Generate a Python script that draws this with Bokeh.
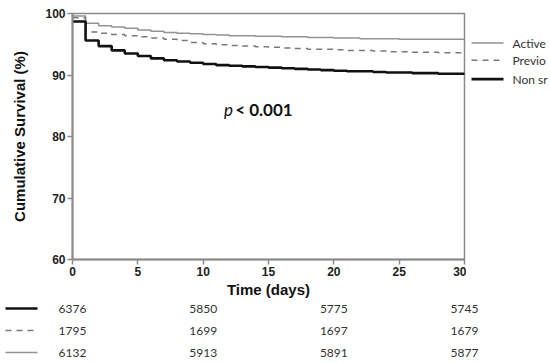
from bokeh.plotting import figure
from bokeh.layouts import column, row
from bokeh.models import Range1d, FixedTicker, Label
from bokeh.core.properties import value
from bokeh.embed import file_html
from bokeh.resources import INLINE

# ---- data ----
days = list(range(31))
non_smokers = [98.7, 95.6, 94.7, 94.0, 93.5, 93.1, 92.7, 92.4, 92.2, 92.0, 91.8,
               91.6, 91.5, 91.4, 91.3, 91.2, 91.1, 91.0, 90.9, 90.8, 90.7,
               90.6, 90.6, 90.5, 90.4, 90.4, 90.3, 90.3, 90.2, 90.2, 90.1]
previous_smokers = [99.3, 97.0, 96.8, 96.6, 96.4, 96.2, 96.0, 95.8, 95.6, 95.3, 95.1,
                    94.9, 94.8, 94.7, 94.6, 94.5, 94.4, 94.3, 94.2, 94.2, 94.1,
                    94.0, 94.0, 93.9, 93.8, 93.8, 93.7, 93.7, 93.6, 93.6, 93.5]
active_smokers = [99.6, 98.4, 98.0, 97.8, 97.6, 97.3, 97.1, 96.9, 96.8, 96.7, 96.6,
                  96.5, 96.4, 96.4, 96.3, 96.3, 96.2, 96.2, 96.1, 96.1, 96.0,
                  96.0, 95.9, 95.9, 95.9, 95.8, 95.8, 95.8, 95.8, 95.8, 95.8]
table_times = [0, 10, 20, 30]
at_risk_non = [6376, 5850, 5775, 5745]
at_risk_previous = [1795, 1699, 1697, 1679]
at_risk_active = [6132, 5913, 5891, 5877]
legend_labels = ["Active", "Previo", "Non sr"]
x_ticks = [0, 5, 10, 15, 20, 25, 30]
y_ticks = [60, 70, 80, 90, 100]
p_text_italic = "p"
p_text_rest = "< 0.001"

AXIS_GRAY = "#8a8a8a"
ACTIVE_COLOR = "#939393"
PREV_COLOR = "#7a7a7a"
NON_COLOR = "#111111"
TEXT_COLOR = "#333333"

LEFT = 72
MAIN_W = 466
MAIN_H = 300
TOTAL_W = 550
TBL_H = 63

# ---- main plot ----
p = figure(width=MAIN_W, height=MAIN_H, x_range=Range1d(0, 30), y_range=Range1d(60, 100),
           toolbar_location=None, output_backend="svg",
           min_border_left=LEFT, min_border_right=2, min_border_top=13, min_border_bottom=41)
p.grid.visible = False
p.outline_line_color = AXIS_GRAY
p.outline_line_width = 1.5

p.step(days, active_smokers, mode="after", line_color=ACTIVE_COLOR, line_width=1.5)
p.step(days, previous_smokers, mode="after", line_color=PREV_COLOR, line_width=1.5,
       line_dash="6 5")
p.step(days, non_smokers, mode="after", line_color=NON_COLOR, line_width=2.6)

for ax in (p.xaxis[0], p.yaxis[0]):
    ax.axis_line_color = AXIS_GRAY
    ax.axis_line_width = 2
    ax.major_tick_line_color = AXIS_GRAY
    ax.major_tick_line_width = 1.5
    ax.major_tick_out = 5
    ax.major_tick_in = 0
    ax.minor_tick_line_color = None
    ax.major_label_standoff = 2
    ax.major_label_text_font = "Liberation Sans"
    ax.major_label_text_font_style = "bold"
    ax.major_label_text_font_size = "12px"
    ax.major_label_text_color = "#222222"
    ax.axis_label_text_font = "Liberation Sans"
    ax.axis_label_text_font_style = "bold"
    ax.axis_label_text_color = "#111111"

p.xaxis.ticker = FixedTicker(ticks=x_ticks)
p.yaxis.ticker = FixedTicker(ticks=y_ticks)
p.xaxis.axis_label = "Time (days)"
p.xaxis.axis_label_text_font_size = "15px"
p.xaxis.axis_label_standoff = 2
p.yaxis.axis_label = "Cumulative Survival (%)"
p.yaxis.axis_label_text_font_size = "15px"
p.yaxis.axis_label_standoff = 14

p.add_layout(Label(x=11.6, y=84.4, text=p_text_italic, text_font="Lato",
                   text_font_style="italic", text_font_size="17px",
                   text_baseline="middle", text_color="#111111"))
p.add_layout(Label(x=12.45, y=84.4, text=p_text_rest, text_font="Lato",
                   text_font_style="bold", text_font_size="17px",
                   text_baseline="middle", text_color="#111111"))

# ---- legend (right) ----
LEG_W = TOTAL_W - MAIN_W
leg = figure(width=LEG_W, height=MAIN_H, x_range=Range1d(0, LEG_W), y_range=Range1d(MAIN_H, 0),
             toolbar_location=None, output_backend="svg", min_border=0,
             x_axis_location=None, y_axis_location=None)
leg.grid.visible = False
leg.outline_line_color = None
leg_y = [36, 57, 80]
leg.segment(x0=[5], x1=[37], y0=[leg_y[0]], y1=[leg_y[0]], line_color=ACTIVE_COLOR, line_width=1.5)
leg.segment(x0=[5], x1=[37], y0=[leg_y[1]], y1=[leg_y[1]], line_color=PREV_COLOR, line_width=1.5,
            line_dash="6 5")
leg.segment(x0=[5], x1=[37], y0=[leg_y[2]], y1=[leg_y[2]], line_color=NON_COLOR, line_width=2.6)
leg.text(x=[46, 46, 46], y=leg_y, text=legend_labels, text_font=value("Lato"),
         text_font_size="12px", text_baseline="middle", text_color=TEXT_COLOR)

# ---- numbers-at-risk table ----
ppd = (MAIN_W - 2 - LEFT) / 30.0
tbl = figure(width=TOTAL_W, height=TBL_H, x_range=Range1d(-LEFT / ppd, (TOTAL_W - LEFT) / ppd),
             y_range=Range1d(TBL_H, 0), toolbar_location=None, output_backend="svg",
             min_border=0, x_axis_location=None, y_axis_location=None)
tbl.grid.visible = False
tbl.outline_line_color = None
row_y = [8, 30, 52]
sx0, sx1 = (5 - LEFT) / ppd, (37 - LEFT) / ppd
tbl.segment(x0=[sx0], x1=[sx1], y0=[row_y[0]], y1=[row_y[0]], line_color=NON_COLOR, line_width=2.6)
tbl.segment(x0=[sx0], x1=[sx1], y0=[row_y[1]], y1=[row_y[1]], line_color=PREV_COLOR, line_width=1.5,
            line_dash="6 5")
tbl.segment(x0=[sx0], x1=[sx1], y0=[row_y[2]], y1=[row_y[2]], line_color=ACTIVE_COLOR, line_width=1.5)
for yy, vals in zip(row_y, [at_risk_non, at_risk_previous, at_risk_active]):
    tbl.text(x=table_times, y=[yy] * len(table_times), text=[str(v) for v in vals],
             text_font=value("Lato"), text_font_size="12px", text_align="center",
             text_baseline="middle", text_color=TEXT_COLOR)

layout = column(row(p, leg), tbl)
open("out.html", "w").write(file_html(layout, INLINE))
